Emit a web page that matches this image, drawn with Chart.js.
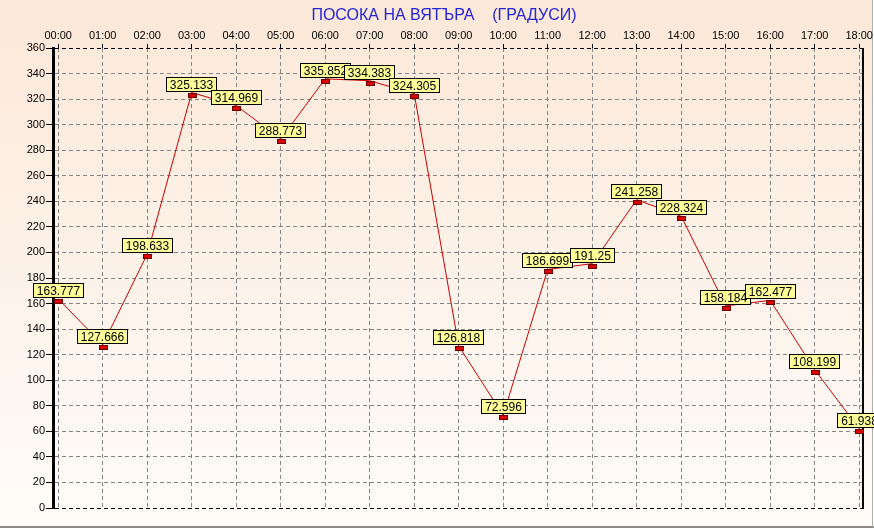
<!DOCTYPE html>
<html><head><meta charset="utf-8">
<script src="https://cdn.jsdelivr.net/npm/chart.js@4/dist/chart.umd.min.js"></script>
<style>html,body{margin:0;padding:0;background:#fff;overflow:hidden}canvas{display:block}</style>
</head><body>
<canvas id="c" width="874" height="529"></canvas>
<script>
const chartTitle = 'ПОСОКА НА ВЯТЪРА    (ГРАДУСИ)';
const hours = ['00:00','01:00','02:00','03:00','04:00','05:00','06:00','07:00','08:00','09:00',
               '10:00','11:00','12:00','13:00','14:00','15:00','16:00','17:00','18:00'];
const direction = [163.777, 127.666, 198.633, 325.133, 314.969, 288.773, 335.852, 334.383, 324.305,
                   126.818, 72.596, 186.699, 191.25, 241.258, 228.324, 158.184, 162.477, 108.199, 61.938];
const yMin = 0, yMax = 360, yStep = 20;

const FONT = '"Liberation Sans", Arial, sans-serif';

const decor = {
  id: 'decor',
  beforeDraw(chart) {
    const ctx = chart.ctx, W = chart.width, H = chart.height;
    ctx.save();
    ctx.fillStyle = '#ffffff';
    ctx.fillRect(0, 0, W, H);
    const g = ctx.createLinearGradient(0, 0, 0, 527);
    g.addColorStop(0, '#fce8d8');
    g.addColorStop(1, '#fffcf9');
    ctx.fillStyle = g;
    ctx.fillRect(0, 0, W - 2, 527);
    ctx.fillStyle = '#8a8a8a';
    ctx.fillRect(0, 526, W, 2);
    ctx.fillStyle = '#b0b0b0';
    ctx.fillRect(W - 2, 0, 1, 527);
    ctx.restore();
  },
  afterDatasetsDraw(chart) {
    const ctx = chart.ctx, a = chart.chartArea;
    ctx.save();
    // right frame
    ctx.fillStyle = '#000';
    ctx.fillRect(a.right - 1, a.top, 2, a.bottom - a.top + 1);
    // markers
    const pts = chart.getDatasetMeta(0).data;
    pts.forEach(p => {
      const x = Math.round(p.x), y = Math.round(p.y);
      ctx.fillStyle = '#d80000';
      ctx.fillRect(x - 4, y, 9, 5);
      ctx.strokeStyle = '#6e0000';
      ctx.lineWidth = 1;
      ctx.strokeRect(x - 4 + 0.5, y + 0.5, 8, 4);
    });
    // labels
    ctx.font = '12px ' + FONT;
    ctx.textAlign = 'center';
    ctx.textBaseline = 'middle';
    pts.forEach((p, i) => {
      const txt = String(direction[i]);
      const w = Math.round(ctx.measureText(txt).width + 8);
      const h = 15;
      const bx = Math.round(p.x - w / 2), by = Math.round(p.y) - 1 - h;
      ctx.fillStyle = '#ffff99';
      ctx.fillRect(bx, by, w, h);
      ctx.strokeStyle = '#000';
      ctx.lineWidth = 1;
      ctx.strokeRect(bx + 0.5, by + 0.5, w - 1, h - 1);
      ctx.fillStyle = '#000';
      ctx.fillText(txt, bx + w / 2, by + h / 2 + 1);
    });
    // title
    ctx.font = '16px ' + FONT;
    ctx.fillStyle = '#2424d8';
    ctx.textAlign = 'center';
    ctx.textBaseline = 'middle';
    ctx.fillText(chartTitle, 444, 16);
    ctx.restore();
  }
};

new Chart(document.getElementById('c'), {
  type: 'line',
  data: {
    datasets: [{
      data: hours.map((h, i) => ({ x: i, y: direction[i] })),
      borderColor: '#cc0000',
      borderWidth: 1,
      pointRadius: 0,
      tension: 0,
      fill: false
    }]
  },
  options: {
    responsive: false,
    animation: false,
    devicePixelRatio: 1,
    layout: { padding: { left: 0, right: 10, top: 24, bottom: 21 } },
    plugins: { legend: { display: false }, title: { display: false }, tooltip: { enabled: false } },
    scales: {
      x: {
        type: 'linear',
        position: 'top',
        min: -0.117,
        max: 18.085,
        afterBuildTicks: s => { s.ticks = hours.map((h, i) => ({ value: i })); },
        afterFit: s => { s.height = 24; },
        ticks: {
          callback: (v) => hours[v] ?? '',
          color: '#000',
          font: { family: FONT, size: 11 },
          padding: 1,
          maxRotation: 0,
          autoSkip: false
        },
        grid: {
          color: '#858585',
          tickColor: '#000',
          tickBorderDash: [],
          tickLength: 4,
          drawTicks: true
        },
        border: { display: false, dash: [4, 3] }
      },
      y: {
        min: yMin,
        max: yMax,
        afterFit: s => { s.width = 53; },
        ticks: {
          stepSize: yStep,
          color: '#000',
          font: { family: FONT, size: 11 },
          padding: 1
        },
        grid: {
          color: c => (c.tick && (c.tick.value === yMin || c.tick.value === yMax)) ? '#000' : '#858585',
          tickColor: '#000',
          tickBorderDash: [],
          tickLength: 7
        },
        border: { display: true, color: '#000', width: 3, dash: [4, 3] }
      }
    }
  },
  plugins: [decor]
});
</script>
</body></html>
